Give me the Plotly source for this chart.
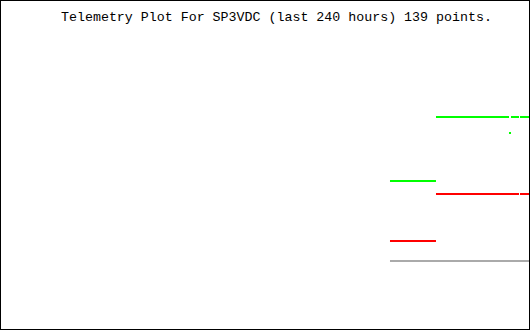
import plotly.graph_objects as go

# Time axis: hours relative to now (last 240 hours)
X_MIN, X_MAX = -240.0, 0.0

# Series (x = hours ago, y = value in arbitrary telemetry units); None = gap
green_x = [-63.40, -42.57, -42.57, -9.51, None, -8.60, -4.98, None, -4.53, 0.0]
green_y = [149, 149, 213, 213, None, 213, 213, None, 213, 213]

green_dot_x = [-9.06]
green_dot_y = [197]

red_x = [-63.40, -42.57, -42.57, -4.98, None, -4.53, 0.0]
red_y = [89, 89, 136, 136, None, 136, 136]

gray_x = [-63.40, 0.0]
gray_y = [69, 69]

title_text = "Telemetry Plot For SP3VDC (last 240 hours) 139 points."

fig = go.Figure()


def add_steps(xs, ys, color):
    # keep only horizontal runs (no vertical joins), gaps where None
    runs, cur_x, cur_y = [], [], []
    for x, y in zip(xs, ys):
        if x is None:
            if cur_x:
                runs.append((cur_x, cur_y))
            cur_x, cur_y = [], []
        else:
            cur_x.append(x)
            cur_y.append(y)
    if cur_x:
        runs.append((cur_x, cur_y))
    px, py = [], []
    for rx, ry in runs:
        for i in range(len(rx) - 1):
            if ry[i] == ry[i + 1]:
                px += [rx[i], rx[i + 1], None]
                py += [ry[i], ry[i + 1], None]
    fig.add_trace(go.Scatter(x=px, y=py, mode="lines", connectgaps=False,
                             line=dict(color=color, width=2),
                             hoverinfo="skip", showlegend=False))


add_steps(gray_x, gray_y, "#aaaaaa")
add_steps(red_x, red_y, "#ff0000")
add_steps(green_x, green_y, "#00ff00")

fig.add_trace(go.Scatter(x=green_dot_x, y=green_dot_y, mode="markers",
                         marker=dict(symbol="square", size=2, color="#00ff00",
                                     line=dict(width=0)),
                         hoverinfo="skip", showlegend=False))

fig.update_layout(
    width=530, height=330,
    margin=dict(l=0, r=0, t=0, b=0),
    paper_bgcolor="white", plot_bgcolor="white",
    xaxis=dict(range=[X_MIN, X_MAX], visible=False, fixedrange=True),
    yaxis=dict(range=[0, 330], visible=False, fixedrange=True),
    shapes=[dict(type="rect", xref="paper", yref="paper", x0=0, x1=1, y0=0, y1=1,
                 line=dict(color="black", width=2), fillcolor="rgba(0,0,0,0)")],
    annotations=[dict(text=title_text, xref="paper", yref="paper",
                      x=59 / 530, y=1 - 17.5 / 330, xanchor="left", yanchor="middle",
                      showarrow=False,
                      font=dict(family="Liberation Mono", size=13.3, color="black"))],
)

fig.write_html("out.html")
